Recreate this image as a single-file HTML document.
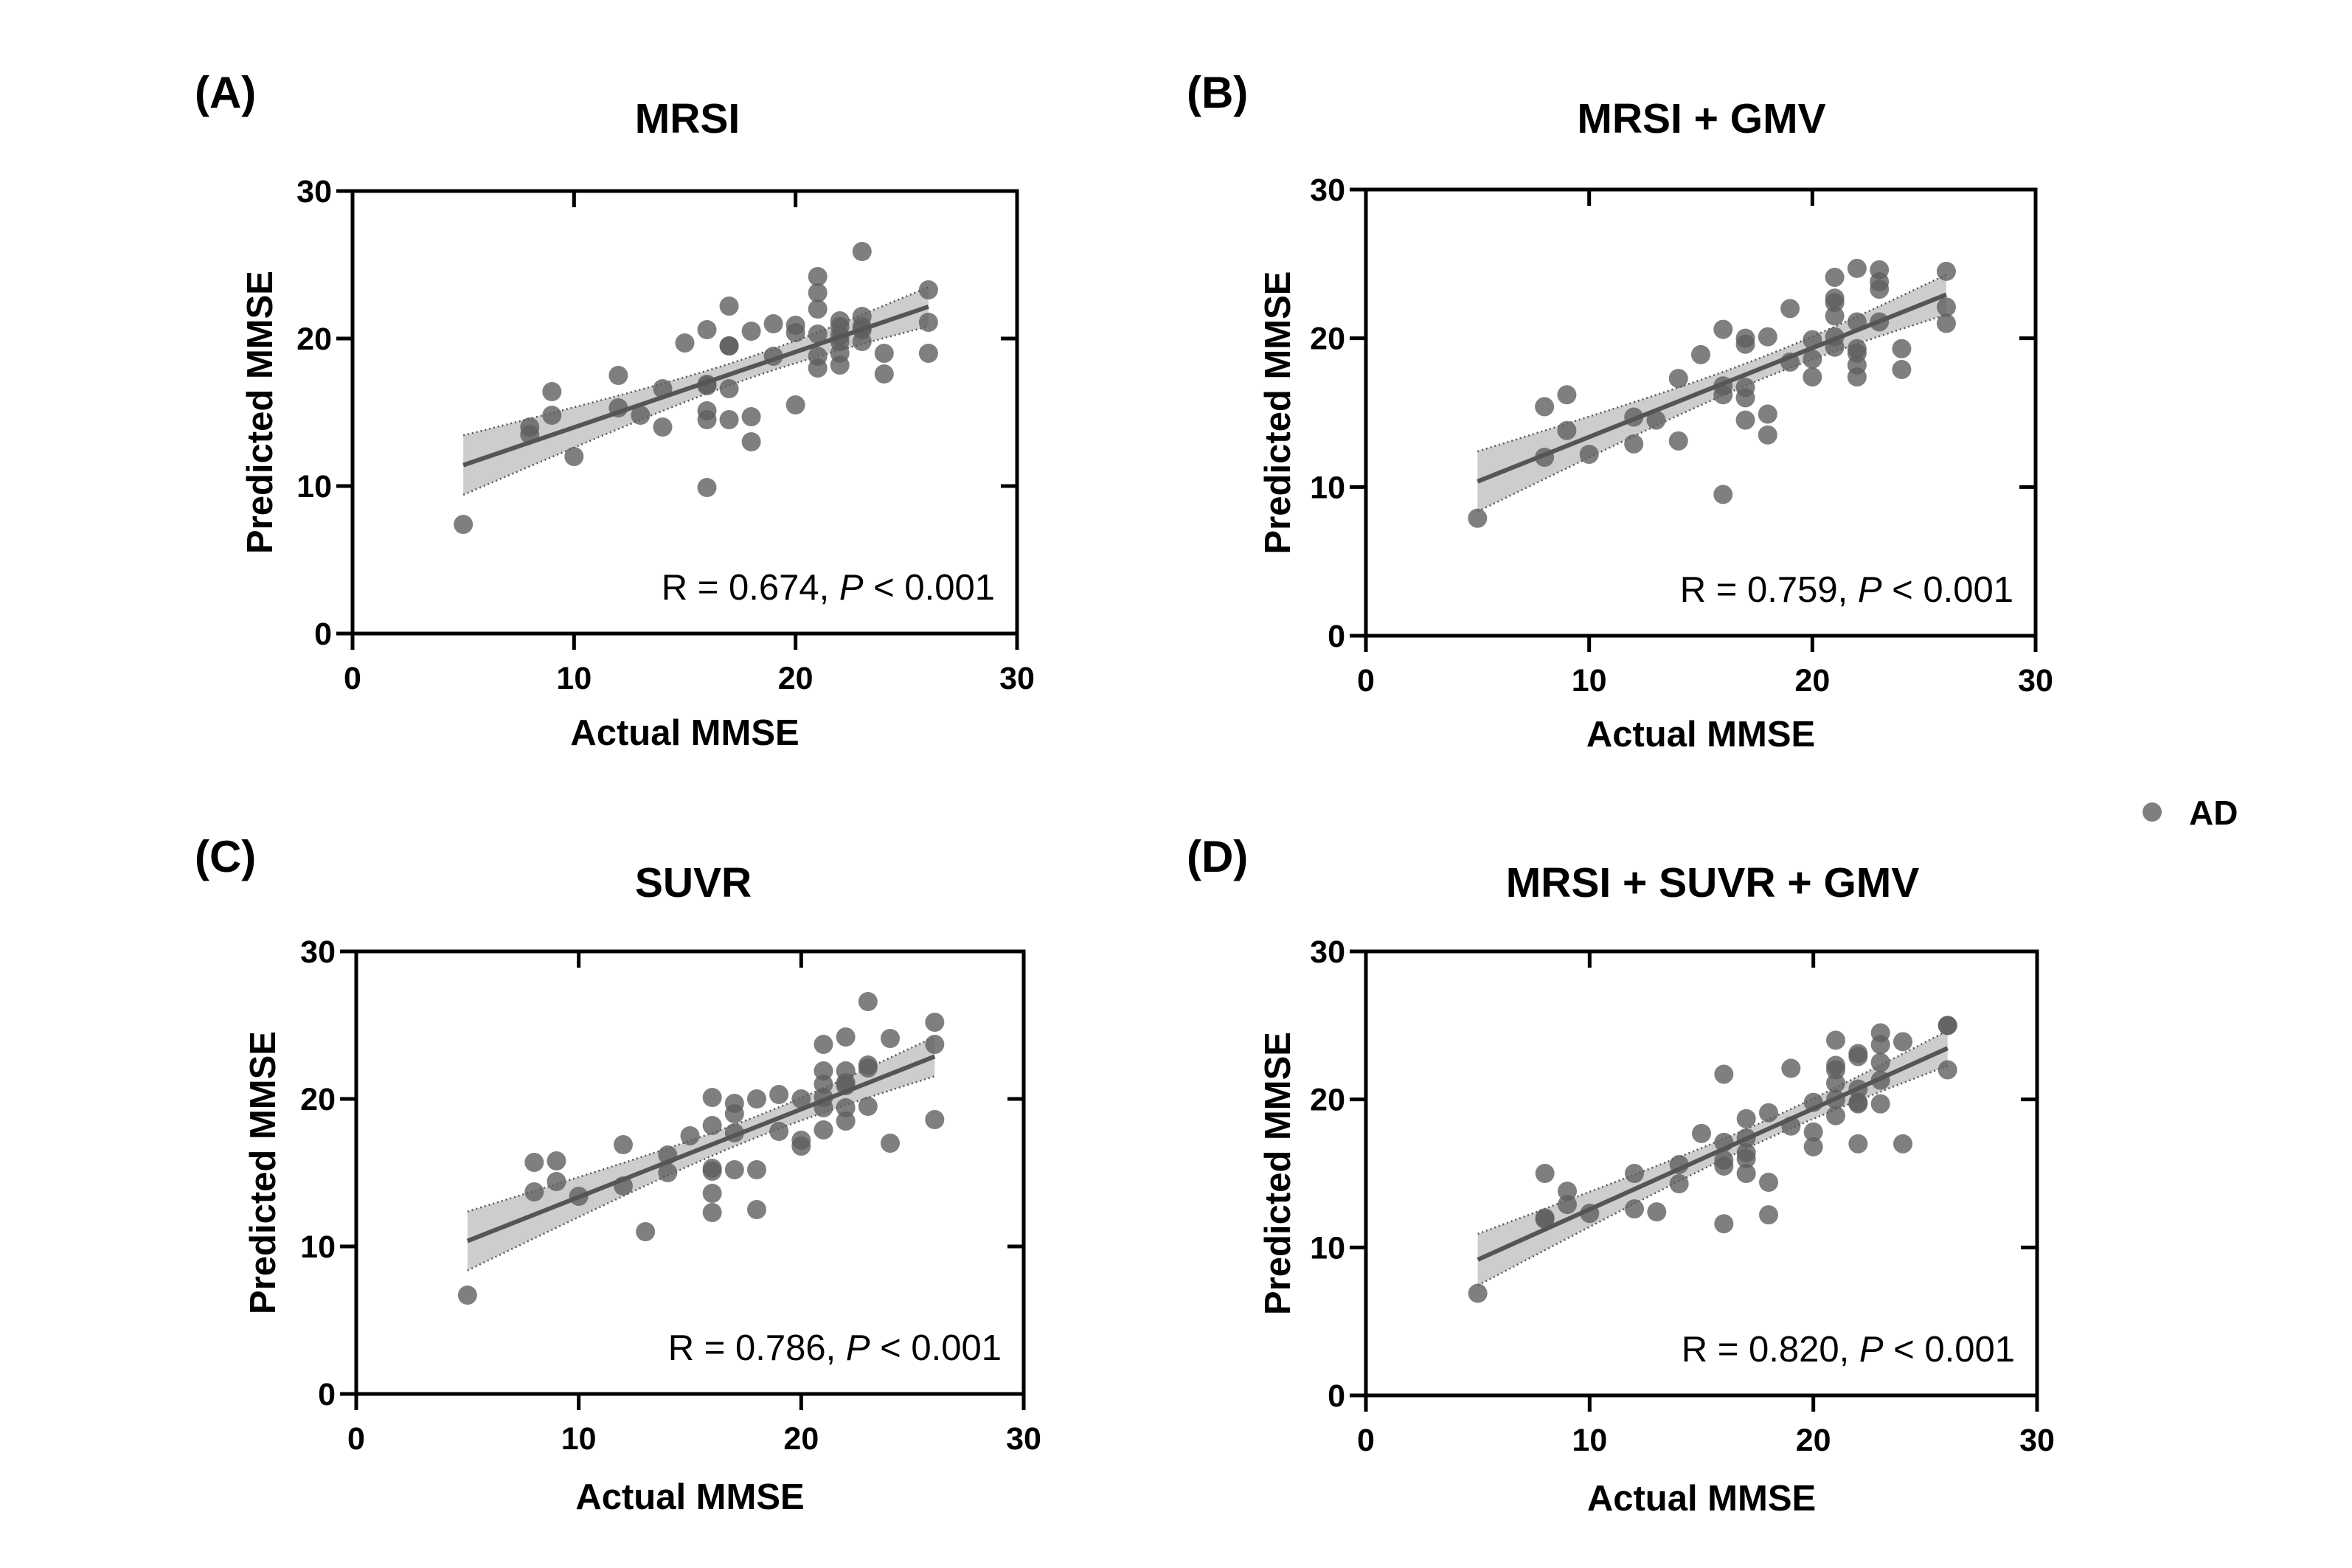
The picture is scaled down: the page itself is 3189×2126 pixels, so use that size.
<!DOCTYPE html>
<html><head><meta charset="utf-8"><style>
html,body{margin:0;padding:0;background:#fff;}
svg{display:block;font-family:"Liberation Sans",Arial,sans-serif;}
</style></head><body>
<svg id="fig" width="3189" height="2126" viewBox="0 0 3189 2126"></svg>
<script>
// ---- data (actual MMSE, predicted MMSE) ----
const xTicks = [0, 10, 20, 30];
const yTicks = [0, 10, 20, 30];
const aActual = [5,8,8,9,9,10,12,12,13,14,14,15,16,16,16,16,16,16,17,17,17,17,17,18,18,18,19,19,20,20,20,21,21,21,21,21,21,22,22,22,22,22,22,23,23,23,23,23,24,24,26,26,26];
const aPred   = [7.4,14,13.5,16.4,14.8,12,17.5,15.3,14.8,16.6,14,19.7,20.6,16.9,16.8,15.1,14.5,9.9,22.2,19.5,19.5,16.6,14.5,20.5,14.7,13,21,18.8,20.9,20.4,15.5,24.2,23.1,22,20.3,18.8,18,21.2,20.8,20.2,19.8,19,18.2,25.9,21.5,20.8,20.6,19.8,19,17.6,23.3,21.1,19];
const bActual = [5,8,8,9,9,10,12,12,13,14,14,15,16,16,16,16,17,17,17,17,17,18,18,18,19,19,20,20,20,21,21,21,21,21,21,22,22,22,22,22,22,23,23,23,23,24,24,26,26,26];
const bPred   = [7.9,15.4,12,16.2,13.8,12.2,14.7,12.9,14.5,17.3,13.1,18.9,20.6,16.8,16.2,9.5,20,19.6,16.7,16,14.5,20.1,14.9,13.5,22,18.4,19.9,18.6,17.4,24.1,22.7,22.4,21.5,20.1,19.4,24.7,21.1,19.3,19,18.2,17.4,24.6,23.8,23.3,21.1,19.3,17.9,24.5,22.1,21];
const cActual = [5,8,8,9,9,10,12,12,13,14,14,15,16,16,16,16,16,16,17,17,17,17,18,18,18,19,19,20,20,20,21,21,21,21,21,21,22,22,22,22,22,22,23,23,23,23,24,24,26,26,26];
const cPred   = [6.7,15.7,13.7,15.8,14.4,13.4,16.9,14.1,11,16.2,15,17.5,20.1,18.2,15.3,15.1,13.6,12.3,19.7,19,17.7,15.2,20,15.2,12.5,20.3,17.8,20,17.2,16.8,23.7,21.9,21,20.1,19.4,17.9,24.2,21.9,21.1,20.9,19.4,18.5,26.6,22.3,22.1,19.5,24.1,17,25.2,23.7,18.6];
const dActual = [5,8,8,8,9,9,10,12,12,13,14,14,15,16,16,16,16,16,17,17,17,17,17,18,18,18,19,19,20,20,20,21,21,21,21,21,21,22,22,22,22,22,22,23,23,23,23,23,24,24,26,26,26];
const dPred   = [6.9,15,12,11.9,13.8,12.9,12.3,15,12.6,12.4,15.6,14.3,17.7,21.7,17.1,15.9,15.5,11.6,18.7,17.4,16.4,16,15,19.1,14.4,12.2,22.1,18.2,19.8,17.8,16.8,24,22.3,22,21.1,20,18.9,23.1,22.9,20.7,19.8,19.7,17,24.5,23.7,22.5,21.3,19.7,23.9,17,25,25,22];
const panelLabels = ["(A)","(B)","(C)","(D)"];
const panelTitles = ["MRSI","MRSI + GMV","SUVR","MRSI + SUVR + GMV"];
const rValues = ["0.674","0.759","0.786","0.820"];

const NS="http://www.w3.org/2000/svg";
const svg=document.getElementById('fig');
function mk(tag,attrs,parent){const e=document.createElementNS(NS,tag);for(const k in attrs)e.setAttribute(k,attrs[k]);(parent||svg).appendChild(e);return e;}

const panels=[
 {x0:478,x1:1379,y0:259,y1:859,lx:264,ly:146,tx:932,ty:180,ytx:352,xty:1010,xs:aActual,ys:aPred},
 {x0:1852,x1:2760,y0:257,y1:862,lx:1609,ly:146,tx:2307,ty:180,ytx:1732,xty:1012,xs:bActual,ys:bPred},
 {x0:483,x1:1388,y0:1290,y1:1890,lx:264,ly:1182,tx:940,ty:1216,ytx:356,xty:2046,xs:cActual,ys:cPred},
 {x0:1852,x1:2762,y0:1290,y1:1892,lx:1609,ly:1182,tx:2322,ty:1216,ytx:1732,xty:2048,xs:dActual,ys:dPred}
];

panels.forEach((p,i)=>{
  const g=mk('g',{});
  
  
  const sx=v=>p.x0+(v-0)/30*(p.x1-p.x0);
  const sy=v=>p.y1-(v-0)/30*(p.y1-p.y0);
  const pl=mk('text',{x:p.lx,y:p.ly,'font-size':60,'font-weight':'bold','text-anchor':'start'},g);
  pl.textContent=panelLabels[i];
  
  
  const tt=mk('text',{x:p.tx,y:p.ty,'font-size':57,'font-weight':'bold','text-anchor':'middle'},g);
  tt.textContent=panelTitles[i];
  
  
  const n=p.xs.length;
  const mx=p.xs.reduce((a,b)=>a+b,0)/n, my=p.ys.reduce((a,b)=>a+b,0)/n;
  let sxx=0,sxy=0;for(let k=0;k<n;k++){sxx+=(p.xs[k]-mx)**2;sxy+=(p.xs[k]-mx)*(p.ys[k]-my);}
  const b=sxy/sxx,a=my-b*mx;
  let sse=0;for(let k=0;k<n;k++)sse+=(p.ys[k]-a-b*p.xs[k])**2;
  const s=Math.sqrt(sse/(n-2)),t=2.01;
  const xmin=Math.min(...p.xs),xmax=Math.max(...p.xs);
  const up=[],lo=[];
  for(let k=0;k<=40;k++){const xv=xmin+(xmax-xmin)*k/40;const f=a+b*xv;const se=s*Math.sqrt(1/n+(xv-mx)**2/sxx);
    up.push([sx(xv),sy(f+t*se)]);lo.push([sx(xv),sy(f-t*se)]);}
  const band=mk('path',{d:'M'+up.map(q=>q.join(',')).join('L')+'L'+lo.slice().reverse().map(q=>q.join(',')).join('L')+'Z',fill:'#cdcdcd'},g);
  
  
  [up,lo].forEach(arr=>{const e=mk('path',{d:'M'+arr.map(q=>q.join(',')).join('L'),fill:'none',stroke:'#555','stroke-width':2.5,'stroke-dasharray':'2,4'},g);
    
    });
  for(let k=0;k<n;k++){const c=mk('circle',{cx:sx(p.xs[k]),cy:sy(p.ys[k]),r:13,fill:'#5f5f5f','fill-opacity':0.8},g);
    
    }
  const ln=mk('line',{x1:sx(xmin),y1:sy(a+b*xmin),x2:sx(xmax),y2:sy(a+b*xmax),stroke:'#555','stroke-width':6},g);
  
  
  const fr=mk('rect',{x:p.x0,y:p.y0,width:p.x1-p.x0,height:p.y1-p.y0,fill:'none',stroke:'#000','stroke-width':5},g);
  
  
  xTicks.forEach(v=>{
    mk('line',{x1:sx(v),y1:p.y1,x2:sx(v),y2:p.y1+22,stroke:'#000','stroke-width':5},g);
    if(v>0&&v<30)mk('line',{x1:sx(v),y1:p.y0,x2:sx(v),y2:p.y0+22,stroke:'#000','stroke-width':5},g);
    const tl=mk('text',{x:sx(v),y:p.y1+75,'font-size':43,'font-weight':'bold','text-anchor':'middle'},g);
    tl.textContent=v;
    
    
  });
  yTicks.forEach(v=>{
    mk('line',{x1:p.x0-22,y1:sy(v),x2:p.x0,y2:sy(v),stroke:'#000','stroke-width':5},g);
    if(v>0&&v<30)mk('line',{x1:p.x1-22,y1:sy(v),x2:p.x1,y2:sy(v),stroke:'#000','stroke-width':5},g);
    const tl=mk('text',{x:p.x0-28,y:sy(v)+15,'font-size':43,'font-weight':'bold','text-anchor':'end'},g);
    tl.textContent=v;
    
    
  });
  const xt=mk('text',{x:(p.x0+p.x1)/2,y:p.xty,'font-size':49,'font-weight':'bold','text-anchor':'middle'},g);
  xt.textContent='Actual MMSE';
  
  
  const yc=(p.y0+p.y1)/2;
  const yt=mk('text',{x:p.ytx,y:yc,'font-size':49,'font-weight':'bold','text-anchor':'middle',transform:`rotate(-90 ${p.ytx} ${yc})`,dy:17},g);
  yt.textContent='Predicted MMSE';
  
  
  const an=mk('text',{x:p.x1-30,y:p.y1-46,'font-size':49,'text-anchor':'end'},g);
  an.innerHTML='R = '+rValues[i]+', <tspan font-style="italic">P</tspan> &lt; 0.001';
  
  
});
const lg=mk('g',{});


mk('circle',{cx:2918,cy:1101,r:13,fill:'#5f5f5f','fill-opacity':0.8},lg);
const lt=mk('text',{x:2968,y:1118,'font-size':46,'font-weight':'bold'},lg);
lt.textContent='AD';
</script>
</body></html>
